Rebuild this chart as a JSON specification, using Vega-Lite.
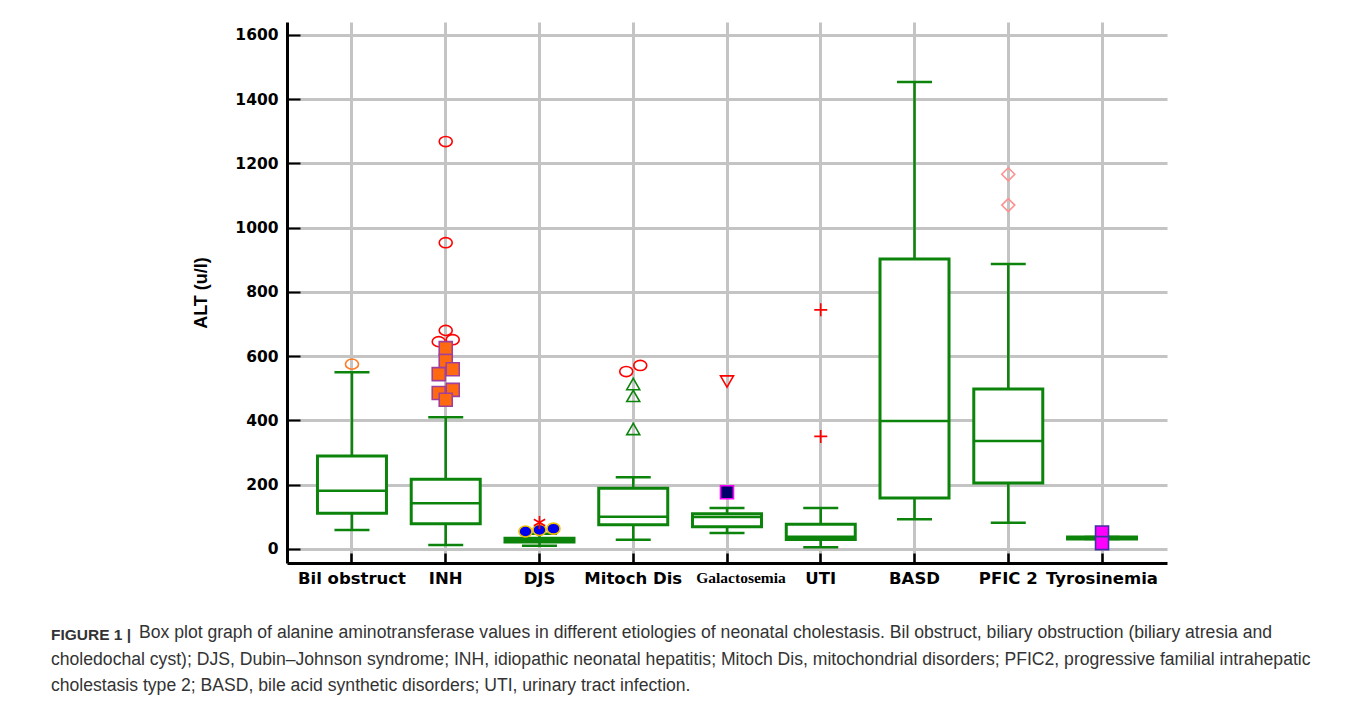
{
  "$schema": "https://vega.github.io/schema/vega-lite/v6.json",
  "width": 880,
  "height": 541,
  "autosize": {"type": "none"},
  "padding": {"left": 287, "top": 22, "right": 193, "bottom": 139},
  "background": "white",
  "config": {"view": {"stroke": null}},
  "title": {
    "text": "FIGURE 1 |",
    "subtitle": [
      "\u200b\u00a0\u00a0\u00a0\u00a0\u00a0\u00a0\u00a0\u00a0\u00a0\u00a0\u00a0\u00a0\u00a0\u00a0\u00a0\u00a0\u00a0\u00a0Box plot graph of alanine aminotransferase values in different etiologies of neonatal cholestasis. Bil obstruct, biliary obstruction (biliary atresia and",
      "choledochal cyst); DJS, Dubin\u2013Johnson syndrome; INH, idiopathic neonatal hepatitis; Mitoch Dis, mitochondrial disorders; PFIC2, progressive familial intrahepatic",
      "cholestasis type 2; BASD, bile acid synthetic disorders; UTI, urinary tract infection."
    ],
    "orient": "bottom",
    "anchor": "start",
    "frame": "group",
    "dx": -236,
    "offset": 41,
    "font": "Liberation Sans",
    "fontSize": 15.5,
    "fontWeight": "bold",
    "color": "#333333",
    "subtitleFont": "Liberation Sans",
    "subtitleFontSize": 17.6,
    "subtitleColor": "#333333",
    "subtitleLineHeight": 26.5,
    "subtitlePadding": -19
  },
  "datasets": {
    "boxes": [
      {"cat": "Bil obstruct", "lower": 59, "q1": 111, "median": 181, "q3": 289, "upper": 550},
      {"cat": "INH", "lower": 12, "q1": 78, "median": 142, "q3": 217, "upper": 410},
      {"cat": "DJS", "lower": 10, "q1": 21, "median": 27, "q3": 33, "upper": 47},
      {"cat": "Mitoch Dis", "lower": 28, "q1": 75, "median": 100, "q3": 189, "upper": 223},
      {"cat": "Galactosemia", "lower": 49, "q1": 69, "median": 99, "q3": 109, "upper": 127},
      {"cat": "UTI", "lower": 5, "q1": 29, "median": 38, "q3": 77, "upper": 127},
      {"cat": "BASD", "lower": 92, "q1": 158, "median": 398, "q3": 902, "upper": 1453},
      {"cat": "PFIC 2", "lower": 81, "q1": 205, "median": 336, "q3": 498, "upper": 887},
      {"cat": "Tyrosinemia", "lower": 31, "q1": 31, "median": 34, "q3": 37, "upper": 37}
    ],
    "pts": [
      {"cat": "Bil obstruct", "value": 575, "kind": "o_orange", "slot": 0},
      {"cat": "INH", "value": 1268, "kind": "o_red", "slot": 0},
      {"cat": "INH", "value": 953, "kind": "o_red", "slot": 0},
      {"cat": "INH", "value": 680, "kind": "o_red", "slot": 0},
      {"cat": "INH", "value": 645, "kind": "o_red", "slot": -1},
      {"cat": "INH", "value": 651, "kind": "o_red", "slot": 1},
      {"cat": "INH", "value": 625, "kind": "sq_orange", "slot": 0},
      {"cat": "INH", "value": 585, "kind": "sq_orange", "slot": 0},
      {"cat": "INH", "value": 559, "kind": "sq_orange", "slot": 1},
      {"cat": "INH", "value": 544, "kind": "sq_orange", "slot": -1},
      {"cat": "INH", "value": 495, "kind": "sq_orange", "slot": 1},
      {"cat": "INH", "value": 485, "kind": "sq_orange", "slot": -1},
      {"cat": "INH", "value": 464, "kind": "sq_orange", "slot": 0},
      {"cat": "DJS", "value": 54, "kind": "dot_blue", "slot": -2},
      {"cat": "DJS", "value": 59, "kind": "dot_blue", "slot": 0},
      {"cat": "DJS", "value": 63, "kind": "dot_blue", "slot": 2},
      {"cat": "DJS", "value": 82, "kind": "star_red", "slot": 0},
      {"cat": "Mitoch Dis", "value": 552, "kind": "o_red", "slot": -1},
      {"cat": "Mitoch Dis", "value": 571, "kind": "o_red", "slot": 1},
      {"cat": "Mitoch Dis", "value": 513, "kind": "tri_green", "slot": 0},
      {"cat": "Mitoch Dis", "value": 476, "kind": "tri_green", "slot": 0},
      {"cat": "Mitoch Dis", "value": 373, "kind": "tri_green", "slot": 0},
      {"cat": "Galactosemia", "value": 521, "kind": "tri_down_red", "slot": 0},
      {"cat": "Galactosemia", "value": 176, "kind": "sq_navy", "slot": 0},
      {"cat": "UTI", "value": 744, "kind": "plus_red", "slot": 0},
      {"cat": "UTI", "value": 350, "kind": "plus_red", "slot": 0},
      {"cat": "PFIC 2", "value": 1166, "kind": "dia_pink", "slot": 0},
      {"cat": "PFIC 2", "value": 1070, "kind": "dia_pink", "slot": 0},
      {"cat": "Tyrosinemia", "value": 51, "kind": "sq_magenta", "slot": 0},
      {"cat": "Tyrosinemia", "value": 18, "kind": "sq_magenta", "slot": 0}
    ]
  },
  "layer": [
    {
      "data": {"name": "boxes"},
      "mark": {"type": "rule", "color": "#0c840c", "strokeWidth": 2.5},
      "encoding": {
        "x": {
          "field": "cat", "type": "nominal",
          "sort": ["Bil obstruct", "INH", "DJS", "Mitoch Dis", "Galactosemia", "UTI", "BASD", "PFIC 2", "Tyrosinemia"],
          "scale": {"type": "band", "paddingInner": 0, "paddingOuter": 0.193},
          "axis": {
            "title": null,
            "bandPosition": 0.5,
            "labelAngle": 0,
            "labelFont": {"condition": {"test": "datum.value == 'Galactosemia'", "value": "Liberation Serif"}, "value": "DejaVu Sans"},
            "labelFontSize": {"condition": {"test": "datum.value == 'Galactosemia'", "value": 15.5}, "value": 16.5},
            "labelOffset": {"condition": {"test": "datum.value == 'Galactosemia'", "value": 14}, "value": 0},
            "labelFontWeight": "bold",
            "labelColor": "black",
            "labelPadding": 17,
            "domainColor": "black",
            "domainWidth": 3,
            "tickColor": "black",
            "tickWidth": 2.5,
            "tickSize": -10,
            "grid": true,
            "gridColor": "#c4c4c4",
            "gridWidth": 3
          }
        },
        "y": {
          "field": "lower", "type": "quantitative",
          "scale": {"domain": [-44, 1640], "nice": false, "zero": false},
          "axis": {
            "title": "ALT (u/l)",
            "titleFont": "Liberation Sans",
            "titleFontSize": 18,
            "titleFontWeight": "bold",
            "titleColor": "black",
            "titlePadding": 24,
            "values": [0, 100, 200, 300, 400, 500, 600, 700, 800, 900, 1000, 1100, 1200, 1300, 1400, 1500, 1600],
            "format": "d",
            "labelExpr": "datum.value % 200 == 0 ? datum.label : ''",
            "labelFont": "DejaVu Sans",
            "labelFontSize": 15.5,
            "labelFontWeight": "bold",
            "labelColor": "black",
            "labelPadding": 22,
            "domainColor": "black",
            "domainWidth": 3,
            "tickColor": "black",
            "tickWidth": 2,
            "tickSize": {"condition": {"test": "datum.value % 200 != 0", "value": -7}, "value": -13},
            "grid": true,
            "gridColor": "#c4c4c4",
            "gridWidth": 3,
            "gridOpacity": {"condition": {"test": "datum.value % 200 == 0", "value": 1}, "value": 0}
          }
        },
        "y2": {"field": "upper"}
      }
    },
    {
      "data": {"name": "boxes"},
      "mark": {"type": "tick", "color": "#0c840c", "size": 35, "thickness": 2.5, "opacity": 1},
      "encoding": {
        "x": {"field": "cat", "type": "nominal", "sort": ["Bil obstruct", "INH", "DJS", "Mitoch Dis", "Galactosemia", "UTI", "BASD", "PFIC 2", "Tyrosinemia"]},
        "y": {"field": "upper", "type": "quantitative"}
      }
    },
    {
      "data": {"name": "boxes"},
      "mark": {"type": "tick", "color": "#0c840c", "size": 35, "thickness": 2.5, "opacity": 1},
      "encoding": {
        "x": {"field": "cat", "type": "nominal", "sort": ["Bil obstruct", "INH", "DJS", "Mitoch Dis", "Galactosemia", "UTI", "BASD", "PFIC 2", "Tyrosinemia"]},
        "y": {"field": "lower", "type": "quantitative"}
      }
    },
    {
      "data": {"name": "boxes"},
      "mark": {"type": "bar", "fill": "white", "stroke": "#0c840c", "strokeWidth": 3, "width": 69, "opacity": 1},
      "encoding": {
        "x": {"field": "cat", "type": "nominal", "sort": ["Bil obstruct", "INH", "DJS", "Mitoch Dis", "Galactosemia", "UTI", "BASD", "PFIC 2", "Tyrosinemia"]},
        "y": {"field": "q1", "type": "quantitative"},
        "y2": {"field": "q3"}
      }
    },
    {
      "data": {"name": "boxes"},
      "mark": {"type": "tick", "color": "#0c840c", "size": 69, "thickness": 2.5, "opacity": 1},
      "encoding": {
        "x": {"field": "cat", "type": "nominal", "sort": ["Bil obstruct", "INH", "DJS", "Mitoch Dis", "Galactosemia", "UTI", "BASD", "PFIC 2", "Tyrosinemia"]},
        "y": {"field": "median", "type": "quantitative"}
      }
    },
    {
      "data": {"name": "pts"},
      "mark": {"type": "point", "filled": true, "opacity": 1, "strokeWidth": 1.6},
      "encoding": {
        "x": {"field": "cat", "type": "nominal", "sort": ["Bil obstruct", "INH", "DJS", "Mitoch Dis", "Galactosemia", "UTI", "BASD", "PFIC 2", "Tyrosinemia"]},
        "xOffset": {"field": "slot", "type": "quantitative", "scale": {"domain": [-2, 2], "range": [32.875, 60.875]}},
        "y": {"field": "value", "type": "quantitative"},
        "shape": {
          "field": "kind", "type": "nominal", "legend": null,
          "scale": {
            "domain": ["o_orange", "o_red", "sq_orange", "dot_blue", "star_red", "tri_green", "tri_down_red", "sq_navy", "plus_red", "dia_pink", "sq_magenta"],
            "range": ["M-1,0A1,0.78 0 1,1 1,0A1,0.78 0 1,1 -1,0Z", "M-1,0A1,0.78 0 1,1 1,0A1,0.78 0 1,1 -1,0Z", "square", "M-1,0A1,0.85 0 1,1 1,0A1,0.85 0 1,1 -1,0Z", "M0,-1L0,1M-0.87,-0.5L0.87,0.5M-0.87,0.5L0.87,-0.5", "triangle-up", "triangle-down", "square", "M-1,0L1,0M0,-1L0,1", "diamond", "square"]
          }
        },
        "fill": {
          "field": "kind", "type": "nominal", "legend": null,
          "scale": {
            "domain": ["o_orange", "o_red", "sq_orange", "dot_blue", "star_red", "tri_green", "tri_down_red", "sq_navy", "plus_red", "dia_pink", "sq_magenta"],
            "range": ["transparent", "transparent", "#ff6a10", "#0000ee", "transparent", "transparent", "transparent", "#00006a", "transparent", "transparent", "#ff00ff"]
          }
        },
        "stroke": {
          "field": "kind", "type": "nominal", "legend": null,
          "scale": {
            "domain": ["o_orange", "o_red", "sq_orange", "dot_blue", "star_red", "tri_green", "tri_down_red", "sq_navy", "plus_red", "dia_pink", "sq_magenta"],
            "range": ["#ff7a20", "#ff0000", "#a0409a", "#f0c000", "#ff0000", "#0c840c", "#ff0000", "#ff00ff", "#ff0000", "#ff9090", "#4030a0"]
          }
        },
        "size": {
          "field": "kind", "type": "nominal", "legend": null,
          "scale": {
            "domain": ["o_orange", "o_red", "sq_orange", "dot_blue", "star_red", "tri_green", "tri_down_red", "sq_navy", "plus_red", "dia_pink", "sq_magenta"],
            "range": [169, 169, 196, 170, 110, 210, 230, 121, 121, 256, 130]
          }
        }
      }
    }
  ]
}
